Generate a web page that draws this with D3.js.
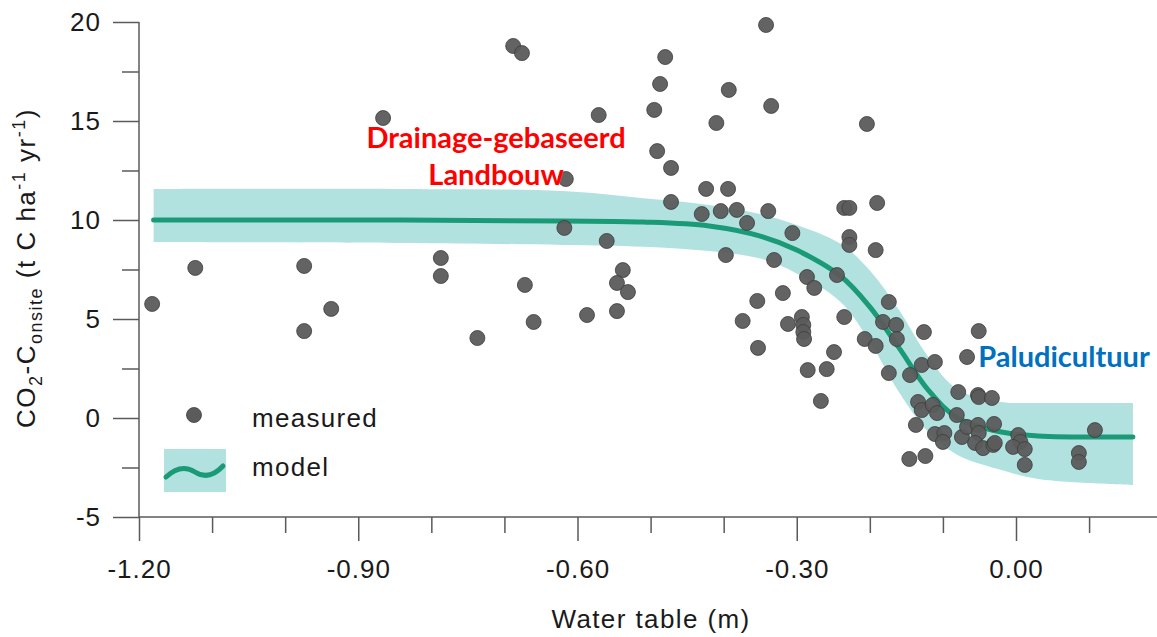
<!DOCTYPE html>
<html>
<head>
<meta charset="utf-8">
<script src="https://cdn.jsdelivr.net/npm/d3@7"></script>
<style>
  body { margin: 0; background: #fff; }
  svg text { font-family: "Liberation Sans", Arial, sans-serif; fill: #1a1a1a; }
  .note { font-family: Lato, "Open Sans", sans-serif; font-weight: 700; }
</style>
</head>
<body>
<svg id="chart" width="1157" height="637"></svg>
<script>
/*
   data
*/
var waterTable = [
  -1.182, -1.123, -0.974, -0.937, -0.974, -0.866, -0.787, -0.787, -0.737, -0.688,
  -0.676, -0.672, -0.660, -0.571, -0.616, -0.618, -0.560, -0.587, -0.538, -0.546,
  -0.531, -0.546, -0.480, -0.487, -0.495, -0.491, -0.472, -0.472, -0.393, -0.410,
  -0.342, -0.335, -0.424, -0.394, -0.430, -0.404, -0.382, -0.368, -0.339, -0.306,
  -0.397, -0.331, -0.235, -0.228, -0.190, -0.228, -0.228, -0.192, -0.286, -0.276,
  -0.245, -0.354, -0.319, -0.374, -0.312, -0.293, -0.291, -0.291, -0.290, -0.235,
  -0.353, -0.249, -0.207, -0.192, -0.174, -0.182, -0.164, -0.285, -0.259, -0.267,
  -0.174, -0.163, -0.126, -0.051, -0.145, -0.129, -0.111, -0.067, -0.134, -0.129,
  -0.114, -0.108, -0.137, -0.146, -0.124, -0.111, -0.098, -0.100, -0.081, -0.079,
  -0.052, -0.051, -0.033, -0.074, -0.067, -0.052, -0.051, -0.030, -0.056, -0.045,
  -0.031, -0.029, 0.003, 0.006, -0.004, 0.012, 0.012, 0.086, 0.086, 0.108,
  -0.204
];
var co2Onsite = [
  5.76, 7.58, 7.68, 5.51, 4.39, 15.15, 8.08, 7.17, 4.04, 18.79,
  18.43, 6.72, 4.85, 15.30, 12.07, 9.60, 8.94, 5.20, 7.47, 6.82,
  6.36, 5.40, 18.23, 16.87, 15.56, 13.48, 12.63, 10.91, 16.57, 14.90,
  19.85, 15.76, 11.57, 11.57, 10.30, 10.45, 10.51, 9.85, 10.45, 9.34,
  8.23, 7.98, 10.61, 10.61, 10.86, 9.14, 8.74, 8.48, 7.12, 6.57,
  7.22, 5.91, 6.31, 4.90, 4.75, 5.10, 4.70, 4.34, 3.99, 5.10,
  3.54, 3.33, 3.99, 3.64, 5.86, 4.85, 4.70, 2.42, 2.47, 0.86,
  2.27, 3.99, 4.34, 4.39, 2.17, 2.68, 2.83, 3.08, 0.81, 0.40,
  0.66, 0.25, -0.35, -2.07, -1.92, -0.81, -0.76, -1.21, 0.15, 1.31,
  1.16, 1.06, 1.01, -0.96, -0.45, -0.35, -0.76, -0.30, -1.26, -1.52,
  -1.36, -1.26, -0.86, -1.21, -1.46, -1.57, -2.37, -1.77, -2.22, -0.61,
  14.85
];

var modelX     = [-1.18, -0.84, -0.62, -0.51, -0.42, -0.35, -0.30, -0.24, -0.20, -0.16, -0.12, -0.08, -0.02, 0.03, 0.16];
var modelFit   = [10.0, 10.0, 9.95, 9.9, 9.7, 9.19, 8.48, 7.17, 5.61, 3.54, 1.41, 0.0, -0.71, -0.91, -0.96];
var modelUpper = [11.57, 11.57, 11.46, 11.1, 10.76, 10.3, 9.75, 8.8, 7.45, 5.45, 3.08, 1.45, 0.81, 0.76, 0.76];
var modelLower = [8.89, 8.84, 8.74, 8.65, 8.43, 8.05, 7.3, 5.86, 3.85, 1.3, -0.71, -1.87, -2.63, -3.08, -3.38];

var xMajor = [-1.2, -0.9, -0.6, -0.3, 0];
var xMinor = [-1.1, -1.0, -0.8, -0.7, -0.5, -0.4, -0.2, -0.1, 0.1];
var yMajor = [-5, 0, 5, 10, 15, 20];
var yMinor = [-2.5, 2.5, 7.5, 12.5, 17.5];

/*
   scales
*/
var svg = d3.select("#chart");
var x = d3.scaleLinear().domain([-1.2, 0]).range([139, 1016]);
var y = d3.scaleLinear().domain([-5, 20]).range([517, 22]);

var axisColor = "#5a5a5a";
var smooth = d3.curveCatmullRom.alpha(0.5);

/*
   model band + fit
*/
var model = modelX.map(function(d, i) {
  return { x: d, fit: modelFit[i], hi: modelUpper[i], lo: modelLower[i] };
});

svg.append("path")
  .datum(model)
  .attr("fill", "#b2e2e0")
  .attr("d", d3.area()
    .curve(smooth)
    .x(function(d) { return x(d.x); })
    .y0(function(d) { return y(d.lo); })
    .y1(function(d) { return y(d.hi); }));

svg.append("path")
  .datum(model)
  .attr("fill", "none")
  .attr("stroke", "#1b9a77")
  .attr("stroke-width", 5)
  .attr("stroke-linecap", "round")
  .attr("d", d3.line()
    .curve(smooth)
    .x(function(d) { return x(d.x); })
    .y(function(d) { return y(d.fit); }));

/*
   measured points
*/
var points = waterTable.map(function(d, i) { return { x: d, y: co2Onsite[i] }; });

svg.append("g").selectAll("circle").data(points).enter()
  .append("circle")
    .attr("cx", function(d) { return x(d.x); })
    .attr("cy", function(d) { return y(d.y); })
    .attr("r", 7.5)
    .attr("fill", "#5b5b5b")
    .attr("fill-opacity", 0.95)
    .attr("stroke", "#3c3c3c")
    .attr("stroke-width", 0.8);

/*
   axes
*/
function styleAxis(g) {
  g.select(".domain").remove();
  g.selectAll(".tick line").attr("stroke", axisColor).attr("stroke-width", 1.5);
  g.selectAll(".tick text")
    .attr("fill", "#1a1a1a")
    .style("font-size", "26px")
    .style("letter-spacing", "1px");
}

svg.append("g")
  .attr("transform", "translate(0," + y(-5) + ")")
  .call(d3.axisBottom(x).tickValues(xMajor).tickSize(24).tickPadding(19)
    .tickFormat(function(d) { return d.toFixed(2); }))
  .call(styleAxis);

svg.append("g")
  .attr("transform", "translate(0," + y(-5) + ")")
  .call(d3.axisBottom(x).tickValues(xMinor).tickSize(16).tickFormat(""))
  .call(styleAxis);

svg.append("g")
  .attr("transform", "translate(" + x(-1.2) + ",0)")
  .call(d3.axisLeft(y).tickValues(yMajor).tickSize(26).tickPadding(12)
    .tickFormat(function(d) { return String(d); }))
  .call(styleAxis);

svg.append("g")
  .attr("transform", "translate(" + x(-1.2) + ",0)")
  .call(d3.axisLeft(y).tickValues(yMinor).tickSize(17).tickFormat(""))
  .call(styleAxis);

// axis lines
svg.append("line")
  .attr("x1", x(-1.2)).attr("x2", x(0.195))
  .attr("y1", y(-5)).attr("y2", y(-5))
  .attr("stroke", axisColor).attr("stroke-width", 1.5);
svg.append("line")
  .attr("x1", x(-1.2)).attr("x2", x(-1.2))
  .attr("y1", y(20)).attr("y2", y(-5))
  .attr("stroke", axisColor).attr("stroke-width", 1.5);

// axis titles
svg.append("text")
  .attr("x", 651).attr("y", 628)
  .attr("text-anchor", "middle")
  .style("font-size", "26px")
  .style("letter-spacing", "1.4px")
  .text("Water table (m)");

var yTitle = svg.append("text")
  .attr("transform", "translate(35,268) rotate(-90)")
  .attr("text-anchor", "middle")
  .style("font-size", "26px")
  .style("letter-spacing", "1.5px");
yTitle.append("tspan").text("CO");
yTitle.append("tspan").attr("dy", 7).style("font-size", "18px").text("2");
yTitle.append("tspan").attr("dy", -7).text("-C");
yTitle.append("tspan").attr("dy", 7).style("font-size", "18px").text("onsite");
yTitle.append("tspan").attr("dy", -7).text(" (t C ha");
yTitle.append("tspan").attr("dy", -10).style("font-size", "18px").text("-1");
yTitle.append("tspan").attr("dy", 10).text(" yr");
yTitle.append("tspan").attr("dy", -10).style("font-size", "18px").text("-1");
yTitle.append("tspan").attr("dy", 10).text(")");

/*
   legend
*/
var legend = svg.append("g");
legend.append("circle")
  .attr("cx", 194).attr("cy", 415).attr("r", 7.5)
  .attr("fill", "#5b5b5b").attr("stroke", "#3c3c3c").attr("stroke-width", 0.8);
legend.append("text")
  .attr("x", 252).attr("y", 427)
  .style("font-size", "26px").style("letter-spacing", "1.3px")
  .text("measured");
legend.append("rect")
  .attr("x", 164).attr("y", 449).attr("width", 62).attr("height", 43)
  .attr("fill", "#b2e2e0");
legend.append("path")
  .attr("d", "M166,477 Q181,463 195,472 T223,466")
  .attr("fill", "none").attr("stroke", "#1b9a77")
  .attr("stroke-width", 5).attr("stroke-linecap", "round");
legend.append("text")
  .attr("x", 252).attr("y", 476)
  .style("font-size", "26px").style("letter-spacing", "1.3px")
  .text("model");

/*
   annotations
*/
svg.append("text").attr("class", "note")
  .attr("x", 496).attr("y", 148)
  .attr("text-anchor", "middle")
  .style("font-size", "29px").style("fill", "#ff0000")
  .text("Drainage-gebaseerd");
svg.append("text").attr("class", "note")
  .attr("x", 496).attr("y", 185)
  .attr("text-anchor", "middle")
  .style("font-size", "29px").style("fill", "#ff0000")
  .text("Landbouw");
svg.append("text").attr("class", "note")
  .attr("x", 1064).attr("y", 367)
  .attr("text-anchor", "middle")
  .style("font-size", "29px").style("fill", "#0070c0")
  .text("Paludicultuur");
</script>
</body>
</html>
